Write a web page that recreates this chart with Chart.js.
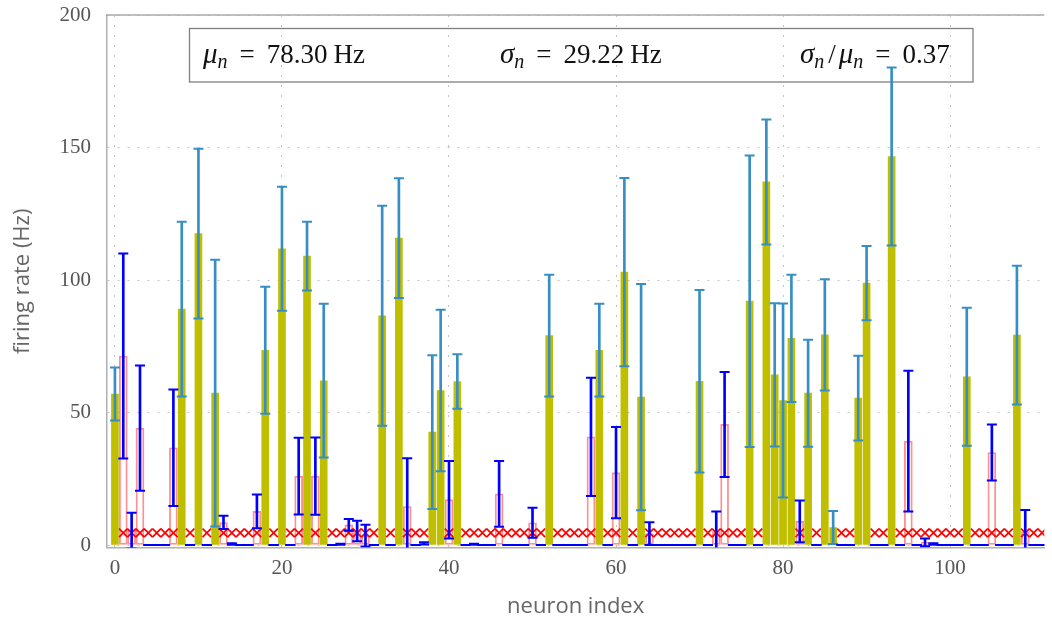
<!DOCTYPE html>
<html>
<head>
<meta charset="utf-8">
<script src="https://cdn.jsdelivr.net/npm/chart.js@4.4.0/dist/chart.umd.min.js"></script>
<style>
    body { margin: 0; background: #fff; }
    #wrap { width: 1052px; height: 623px; }
</style>
</head>
<body>
<div id="wrap"><canvas id="chart1" width="1052" height="623"></canvas></div>
<script>
// neurons drawn as filled yellow bars (mean rate, std)
const exc_idx = [0, 8, 10, 12, 18, 20, 23, 25, 32, 34, 38, 39, 41, 52, 58, 61, 63, 70, 76, 78, 79, 80, 81, 83, 85, 86, 89, 90, 93, 102, 108];
const exc_mean = [57, 89, 117.5, 57.3, 73.5, 111.8, 109, 62, 86.5, 115.8, 42.6, 58.3, 61.7, 79, 73.5, 103, 55.8, 61.8, 92, 137, 64.2, 54.5, 78, 57.3, 79.3, 6.6, 55.4, 98.8, 146.6, 63.5, 79.2];
const exc_std = [10, 33, 32, 50.3, 24, 23.4, 13, 29, 41.5, 22.6, 29, 30.5, 10.3, 23, 17.5, 35.5, 42.7, 34.4, 55, 23.6, 27, 36.6, 24, 20.2, 21, 6.2, 16, 14, 33.6, 26, 26.2];

// all other neurons: hollow red bars, blue error bars, red cross at marker_rate
const inh_idx = [1, 2, 3, 4, 5, 6, 7, 9, 11, 13, 14, 15, 16, 17, 19, 21, 22, 24, 26, 27, 28, 29, 30, 31, 33, 35, 36, 37, 40, 42, 43, 44, 45, 46, 47, 48, 49, 50, 51, 53, 54, 55, 56, 57, 59, 60, 62, 64, 65, 66, 67, 68, 69, 71, 72, 73, 74, 75, 77, 82, 84, 87, 88, 91, 92, 94, 95, 96, 97, 98, 99, 100, 101, 103, 104, 105, 106, 107, 109, 110, 111];
const inh_mean = [71.3, 5.5, 44.1, 0, 0, 0, 36.7, 0, 0, 8.5, 0.4, 0, 0, 12.7, 0, 0, 26, 26, 0, 0.3, 7.6, 5.3, 3.5, 0, 0, 14.5, 0, 0.6, 17.1, 0, 0.3, 0, 0, 19.3, 0, 0, 0, 8.4, 0, 0, 0, 0, 0, 40.8, 0, 27.3, 0, 4.3, 0, 0, 0, 0, 0, 0, 5, 45.5, 0, 0, 0, 8.9, 0, 0, 0, 0, 0, 0, 39.2, 0, 1, 0.4, 0, 0, 0, 0, 0, 34.9, 0, 0, 5, 0, 0];
const inh_std = [38.7, 6.7, 23.6, 0, 0, 0, 22, 0, 0, 2.5, 0.3, 0, 0, 6.4, 0, 0, 14.5, 14.6, 0, 0.2, 2.2, 3.9, 4.1, 0, 0, 18.2, 0, 0.4, 14.6, 0, 0.2, 0, 0, 12.4, 0, 0, 0, 5.7, 0, 0, 0, 0, 0, 22.3, 0, 17.2, 0, 4.3, 0, 0, 0, 0, 0, 0, 7.6, 19.8, 0, 0, 0, 7.9, 0, 0, 0, 0, 0, 0, 26.6, 0, 1.5, 0.3, 0, 0, 0, 0, 0, 10.6, 0, 0, 8.2, 0, 0];
const marker_rate = 4.6;

const x_ticks = [0, 20, 40, 60, 80, 100];
const y_ticks = [0, 50, 100, 150, 200];
const stat_mu = "78.30";
const stat_sigma = "29.22";
const stat_cv = "0.37";

function bar_points(idx, mean) {
    let pts = [];
    for (let i = 0; i < idx.length; i++) {
        if (mean[i] > 0) pts.push({ x: idx[i], y: mean[i] });
    }
    return pts;
}

function stem_points(idx, mean, std) {
    return idx.map((v, i) => ({ x: v, y: [mean[i] - std[i], mean[i] + std[i]] }));
}

function cap_points(idx, mean, std) {
    let pts = [];
    for (let i = 0; i < idx.length; i++) {
        pts.push({ x: idx[i], y: mean[i] - std[i] });
        pts.push({ x: idx[i], y: mean[i] + std[i] });
    }
    return pts;
}

// text with italic greek letters and subscripts, {gap} adds space
function draw_math(ctx, x, y, parts) {
    for (const p of parts) {
        if (p.gap) { x += p.gap; continue; }
        let size = p.sub ? 20 : 27;
        if (p.it && !p.sub) size = 29;
        ctx.font = (p.it ? 'italic ' : '') + size + 'px "Liberation Serif"';
        ctx.fillStyle = '#111';
        ctx.textBaseline = 'alphabetic';
        ctx.textAlign = 'left';
        ctx.fillText(p.t, x, y + (p.sub ? 5 : 0));
        x += ctx.measureText(p.t).width;
    }
}

const stat_box = {
    id: 'stat_box',
    beforeDatasetsDraw(chart) {
        const ctx = chart.ctx;
        const a = chart.chartArea;
        ctx.save();
        ctx.strokeStyle = '#aaa';
        ctx.lineWidth = 1.5;
        ctx.beginPath();
        ctx.moveTo(a.left, a.top);
        ctx.lineTo(a.right, a.top);
        ctx.stroke();
        ctx.strokeStyle = '#808080';
        ctx.lineWidth = 1.3;
        ctx.strokeRect(189.5, 28.5, 783.5, 53.5);
        draw_math(ctx, 203, 63, [{ t: 'μ', it: 1 }, { t: 'n', it: 1, sub: 1 }, { gap: 12 }, { t: '=' }, { gap: 12 }, { t: stat_mu }, { gap: 6 }, { t: 'Hz' }]);
        draw_math(ctx, 500, 63, [{ t: 'σ', it: 1 }, { t: 'n', it: 1, sub: 1 }, { gap: 12 }, { t: '=' }, { gap: 12 }, { t: stat_sigma }, { gap: 6 }, { t: 'Hz' }]);
        draw_math(ctx, 800, 63, [{ t: 'σ', it: 1 }, { t: 'n', it: 1, sub: 1 }, { gap: 4 }, { t: '/' }, { gap: 3 }, { t: 'μ', it: 1 }, { t: 'n', it: 1, sub: 1 }, { gap: 12 }, { t: '=' }, { gap: 12 }, { t: stat_cv }]);
        ctx.restore();
    }
};

const cross_points = inh_idx.map(v => ({ x: v, y: marker_rate }));

const ctx = document.getElementById('chart1');
new Chart(ctx, {
    type: 'bar',
    data: {
        datasets: [
            {
                data: bar_points(inh_idx, inh_mean),
                backgroundColor: 'rgba(0,0,0,0)',
                borderColor: 'rgba(255,70,70,0.6)',
                borderWidth: 1.2,
                borderSkipped: false,
                barThickness: 8,
                grouped: false,
                clip: 0,
                order: 6
            },
            {
                data: bar_points(exc_idx, exc_mean),
                backgroundColor: '#bfbf00',
                barThickness: 7,
                grouped: false,
                clip: 0,
                order: 5
            },
            {
                type: 'scatter',
                data: cross_points,
                pointStyle: 'crossRot',
                pointRadius: 6,
                pointBorderColor: '#ff0000',
                pointBorderWidth: 1.7,
                clip: 0,
                order: 4
            },
            {
                data: stem_points(exc_idx, exc_mean, exc_std),
                backgroundColor: '#368ec4',
                barThickness: 2,
                grouped: false,
                clip: 0,
                order: 3
            },
            {
                type: 'scatter',
                data: cap_points(exc_idx, exc_mean, exc_std),
                pointStyle: 'line',
                pointRadius: 5,
                pointBorderColor: '#368ec4',
                pointBorderWidth: 2,
                clip: 0,
                order: 3
            },
            {
                data: stem_points(inh_idx, inh_mean, inh_std),
                backgroundColor: '#0000ff',
                barThickness: 2,
                grouped: false,
                clip: 0,
                order: 2
            },
            {
                type: 'scatter',
                data: cap_points(inh_idx, inh_mean, inh_std),
                pointStyle: 'line',
                pointRadius: 5,
                pointBorderColor: '#0000ff',
                pointBorderWidth: 2,
                clip: 0,
                order: 1
            }
        ]
    },
    options: {
        responsive: false,
        animation: false,
        events: [],
        layout: { padding: { top: 15, left: 0, right: 0, bottom: 0 } },
        plugins: {
            legend: { display: false },
            tooltip: { enabled: false }
        },
        scales: {
            x: {
                type: 'linear',
                min: -0.95,
                max: 111.28,
                offset: false,
                afterBuildTicks: s => { s.ticks = x_ticks.map(v => ({ value: v })); },
                afterFit: s => { s.height = 75.5; s.paddingLeft = 0; s.paddingRight = 0; },
                grid: { color: '#c4c4c4', lineWidth: 1, drawTicks: false, offset: false },
                border: { color: '#b0b0b0', width: 1.5, dash: [2, 8] },
                ticks: {
                    font: { family: 'Liberation Serif', size: 21 },
                    color: '#555',
                    padding: 8,
                    maxRotation: 0,
                    autoSkip: false
                },
                title: {
                    display: true,
                    text: 'neuron index',
                    font: { family: 'Open Sans', size: 22 },
                    color: '#666',
                    padding: { top: 0, bottom: 3 }
                }
            },
            y: {
                type: 'linear',
                min: -0.94,
                max: 200,
                afterBuildTicks: s => { s.ticks = y_ticks.map(v => ({ value: v })); },
                afterFit: s => { s.width = 107; s.paddingTop = 0; s.paddingBottom = 0; },
                grid: { color: '#c4c4c4', lineWidth: 1, drawTicks: false },
                border: { color: '#b0b0b0', width: 1.5, dash: [2, 8] },
                ticks: {
                    font: { family: 'Liberation Serif', size: 21 },
                    color: '#555',
                    padding: 16
                },
                title: {
                    display: true,
                    text: 'firing rate (Hz)',
                    font: { family: 'Open Sans', size: 22 },
                    color: '#666',
                    padding: { top: 10, bottom: 0 }
                }
            }
        }
    },
    plugins: [stat_box]
});
</script>
</body>
</html>
